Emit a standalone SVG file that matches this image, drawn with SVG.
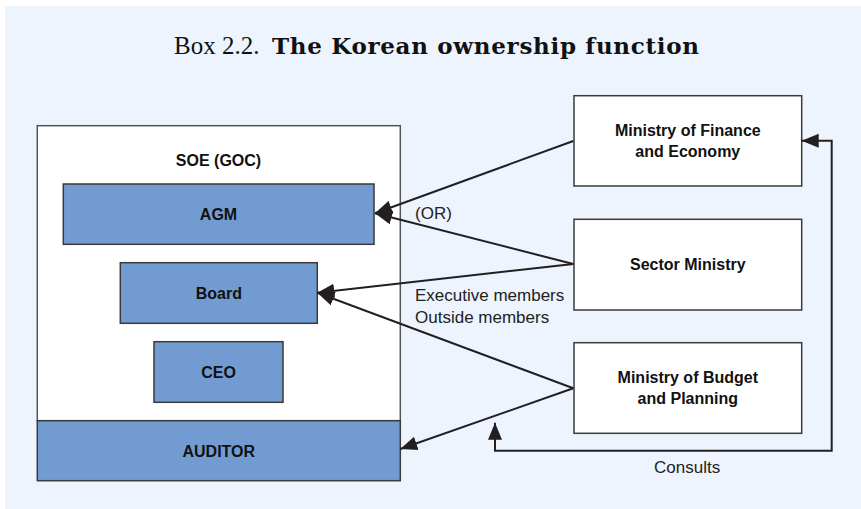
<svg xmlns="http://www.w3.org/2000/svg" width="861" height="509" viewBox="0 0 861 509">
<style>
.bg{fill:#EDF4FD}
.frame{fill:#FFFFFF;stroke:#555555;stroke-width:1.5}
.blue{fill:#729CD1;stroke:#3A3A3A;stroke-width:1.5}
.min{fill:#FFFFFF;stroke:#3A3A3A;stroke-width:1.5}
.lbl{font-family:"Liberation Sans",Arial,sans-serif;font-weight:bold;font-size:16px;fill:#111111;text-anchor:middle}
.note{font-family:"Liberation Sans",Arial,sans-serif;font-size:17px;fill:#222222}
.con{fill:none;stroke:#231F20;stroke-width:2}
.title{font-family:"Liberation Serif","Times New Roman",serif;font-size:25px;fill:#111111}
.titleb{font-family:"DejaVu Serif","Liberation Serif",serif;font-size:23px;font-weight:bold;fill:#111111}
</style>
<defs>
<marker id="ah" markerUnits="userSpaceOnUse" markerWidth="18" markerHeight="15" refX="17" refY="7" orient="auto-start-reverse" viewBox="0 0 18 14">
<path d="M0,0 L17,7 L0,14 Z" fill="#231F20"/>
</marker>
</defs>
<rect class="bg" x="5" y="6" width="856" height="503"/>
<text class="title" x="174" y="54">Box 2.2.</text>
<text class="titleb" x="272" y="54" textLength="427" lengthAdjust="spacing">The Korean ownership function</text>

<g id="soe">
<rect class="frame" x="37.3" y="125.7" width="363" height="295"/>
<text class="lbl" x="218.5" y="165.5">SOE (GOC)</text>
</g>
<g id="agm">
<rect class="blue" x="63.3" y="184" width="310.7" height="60.3"/>
<text class="lbl" x="218.5" y="220">AGM</text>
</g>
<g id="board">
<rect class="blue" x="120.3" y="262.7" width="197" height="60.6"/>
<text class="lbl" x="218.8" y="299">Board</text>
</g>
<g id="ceo">
<rect class="blue" x="154" y="341.7" width="129" height="60.6"/>
<text class="lbl" x="218.5" y="377.7">CEO</text>
</g>
<g id="auditor">
<rect class="blue" x="37.3" y="420.7" width="363" height="60"/>
<text class="lbl" x="218.8" y="456.7">AUDITOR</text>
</g>
<g id="mof">
<rect class="min" x="574" y="95.7" width="227.7" height="90.3"/>
<text class="lbl" x="687.8" y="135.5">Ministry of Finance</text>
<text class="lbl" x="687.8" y="157">and Economy</text>
</g>
<g id="sector">
<rect class="min" x="574" y="219.3" width="227.7" height="90.7"/>
<text class="lbl" x="687.8" y="270">Sector Ministry</text>
</g>
<g id="mobp">
<rect class="min" x="574" y="342.7" width="227.7" height="90.6"/>
<text class="lbl" x="687.8" y="382.7">Ministry of Budget</text>
<text class="lbl" x="687.8" y="404">and Planning</text>
</g>

<g id="connectors">
<line class="con" x1="573.3" y1="141" x2="375" y2="213.3" marker-end="url(#ah)"/>
<line class="con" x1="573.3" y1="264" x2="375" y2="213.3" marker-end="url(#ah)"/>
<line class="con" x1="573.3" y1="264" x2="317.3" y2="292.7" marker-end="url(#ah)"/>
<line class="con" x1="573.3" y1="388.3" x2="317.3" y2="292.7" marker-end="url(#ah)"/>
<line class="con" x1="573.3" y1="388.3" x2="400.3" y2="449" marker-end="url(#ah)"/>
<path class="con" d="M801.7,140.7 H831.7 V450.7 H495 V422.7" marker-start="url(#ah)" marker-end="url(#ah)"/>
<text class="note" x="415" y="219.3">(OR)</text>
<text class="note" x="415" y="300.7">Executive members</text>
<text class="note" x="415" y="323.3">Outside members</text>
<text class="note" x="654" y="473.3">Consults</text>
</g>
</svg>
